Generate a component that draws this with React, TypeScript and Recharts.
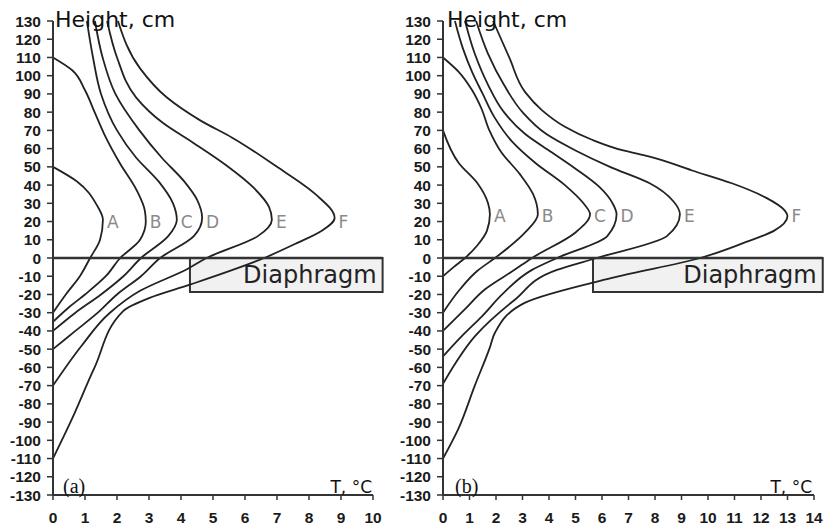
import { LineChart, Line, XAxis, YAxis, ReferenceArea, ReferenceLine, ReferenceDot } from 'recharts';

// Height ticks, shared by both panels
const heightTicks = [
  -130, -120, -110, -100, -90, -80, -70, -60, -50, -40, -30, -20, -10, 0,
  10, 20, 30, 40, 50, 60, 70, 80, 90, 100, 110, 120, 130,
];
const tempTicksA = [0, 1, 2, 3, 4, 5, 6, 7, 8, 9, 10];
const tempTicksB = [0, 1, 2, 3, 4, 5, 6, 7, 8, 9, 10, 11, 12, 13, 14];

const curveNames = ['A', 'B', 'C', 'D', 'E', 'F'];

// panel (a): [T °C, height cm]
const a_A = [[0, 50], [0.75, 42], [1.37, 29], [1.56, 21], [1.47, 10], [1.16, 0], [0.84, -10], [0.4, -20], [0, -30]];
const a_B = [[0, 110], [0.6, 103], [1.0, 92], [1.3, 80], [1.6, 68], [2.09, 52], [2.62, 37], [2.87, 26], [2.9, 20], [2.72, 10], [2.1, 0], [1.65, -10], [1.0, -20], [0.5, -27], [0, -35]];
const a_C = [[1.06, 130], [1.25, 110], [1.5, 90], [2.0, 70], [2.6, 55], [3.3, 42], [3.75, 30], [3.87, 21], [3.6, 12], [2.75, 0], [2.2, -10], [1.5, -20], [0.7, -30], [0, -40]];
const a_D = [[1.31, 130], [1.55, 110], [1.95, 90], [2.7, 70], [3.4, 55], [4.1, 42], [4.5, 32], [4.66, 22], [4.4, 12], [3.35, 0], [2.75, -10], [2.0, -20], [1.4, -30], [0.7, -40], [0, -50]];
const a_E = [[1.69, 130], [2.0, 110], [2.6, 88], [3.44, 74], [4.4, 63], [5.4, 51], [6.3, 38], [6.75, 28], [6.84, 21], [6.4, 12], [4.8, 0], [4.2, -6], [2.72, -18], [1.78, -30], [0.9, -48], [0, -70]];
const a_F = [[2.03, 130], [2.72, 104], [3.56, 88], [4.6, 75.5], [5.6, 66], [7.0, 50], [8.2, 35], [8.8, 22], [8.4, 15], [7.6, 8], [6.6, 0], [4.3, -14.5], [3.0, -22], [2.2, -29], [1.3, -60], [0.6, -88], [0, -110]];

// panel (b)
const b_A = [[0, 70], [0.6, 52], [1.3, 41], [1.7, 30], [1.77, 24], [1.66, 15], [1.3, 7], [0.83, 0], [0.4, -5], [0, -10]];
const b_B = [[0, 110], [0.6, 102], [1.1, 92], [1.45, 82], [1.75, 70], [2.2, 58], [2.9, 46], [3.4, 35], [3.58, 24], [3.1, 14], [1.96, 0], [1.3, -7], [0.65, -17], [0, -30]];
const b_C = [[0.45, 130], [0.75, 115], [1.1, 102], [1.5, 90], [1.95, 77], [2.6, 64], [3.5, 52], [4.6, 40], [5.3, 30], [5.55, 24], [5.0, 14], [3.36, 0], [2.7, -6.5], [1.6, -17], [0.83, -28], [0, -40]];
const b_D = [[0.83, 130], [1.2, 112], [1.7, 95], [2.3, 80], [3.1, 68], [4.1, 58], [5.0, 49], [5.9, 39], [6.4, 30], [6.55, 24], [6.2, 12], [4.3, 0], [3.36, -6.5], [2.3, -19], [1.47, -32], [0.7, -43], [0, -54]];
const b_E = [[1.25, 130], [1.7, 112], [2.3, 95], [3.0, 80], [3.9, 68], [5.0, 59], [6.3, 50], [7.8, 41], [8.7, 31], [8.94, 24], [8.45, 12], [5.8, 0], [4.3, -6.5], [2.7, -23], [1.2, -43], [0.5, -57], [0, -69]];
const b_F = [[1.89, 130], [2.5, 110], [3.1, 91], [3.74, 81], [4.6, 72], [5.6, 65], [6.8, 59], [7.8, 55.6], [9.4, 48], [10.9, 41], [12.2, 33], [12.9, 26], [13.0, 23], [12.5, 15], [11.3, 8], [9.7, 0], [6.5, -10.5], [3.1, -24.5], [1.96, -41], [1.77, -49], [1.2, -70], [0.57, -94], [0, -110]];

// curve label anchors (peak T, height)
const labelTempA = [1.56, 2.9, 3.87, 4.66, 6.84, 8.8];
const labelTempB = [1.77, 3.58, 5.55, 6.55, 8.94, 13.0];
const labelHeightA = 20;
const labelHeightB = 23;

// diaphragm box: [T start, T end, bottom height]
const diaphragmA = [4.28, 10.3, -18.6];
const diaphragmB = [5.66, 14.33, -18.6];

const toRows = (pts: number[][]) => pts.map(([t, h]) => ({ t, h }));

const tickFont = { fontSize: 15.5, fontWeight: 'bold', fill: '#1a1a1a', fontFamily: 'Liberation Sans, Arial, sans-serif' };
const axisStroke = { stroke: '#333', strokeWidth: 2 };

interface PanelProps {
  curves: number[][][];
  xMax: number;
  xTicks: number[];
  labelTemps: number[];
  labelHeight: number;
  box: number[];
  width: number;
  margin: { top: number; right: number; bottom: number; left: number };
}

function Panel({ curves, xMax, xTicks, labelTemps, labelHeight, box, width, margin }: PanelProps) {
  return (
    <LineChart layout="vertical" width={width} height={529} margin={margin}>
      <XAxis
        type="number"
        domain={[0, xMax]}
        ticks={xTicks}
        interval={0}
        tick={tickFont}
        tickSize={5}
        tickMargin={12}
        height={30}
        axisLine={axisStroke}
        tickLine={{ stroke: '#333', strokeWidth: 1.5 }}
      />
      <YAxis
        type="number"
        dataKey="h"
        reversed
        domain={[-130, 130]}
        ticks={heightTicks}
        interval={0}
        tick={tickFont}
        tickSize={6}
        tickMargin={6}
        width={45}
        axisLine={axisStroke}
        tickLine={{ stroke: '#333', strokeWidth: 1.5 }}
      />
      <ReferenceArea
        x1={box[0]}
        x2={box[1]}
        y1={box[2]}
        y2={0}
        ifOverflow="visible"
        fill="#f1f1f1"
        fillOpacity={1}
        stroke="#333"
        strokeWidth={2}
        label={{ value: 'Diaphragm', position: 'insideRight', offset: 6, fontSize: 24, fill: '#222', fontFamily: 'DejaVu Sans, sans-serif' }}
      />
      {curves.map((pts, i) => (
        <Line
          key={curveNames[i]}
          data={toRows(pts)}
          dataKey="t"
          type="monotone"
          stroke="#222"
          strokeWidth={1.8}
          dot={false}
          activeDot={false}
          isAnimationActive={false}
        />
      ))}
      <ReferenceLine
        segment={[{ x: 0, y: 0 }, { x: box[1], y: 0 }]}
        ifOverflow="visible"
        stroke="#333"
        strokeWidth={2.5}
      />
      {labelTemps.map((t, i) => (
        <ReferenceDot
          key={'lbl' + curveNames[i]}
          x={t}
          y={labelHeight}
          r={0}
          fill="none"
          stroke="none"
          label={{ value: curveNames[i], position: 'right', offset: 4, fontSize: 17, fill: '#8a8a8a', fontFamily: 'DejaVu Sans, sans-serif' }}
        />
      ))}
    </LineChart>
  );
}

export default function App() {
  const titleFont = { fontFamily: 'DejaVu Sans, sans-serif', fill: '#111' };
  return (
    <div style={{ position: 'absolute', left: 0, top: 0, width: 826, height: 529, background: '#fff' }}>
      <div style={{ position: 'absolute', left: 0, top: 0 }}>
        <Panel
          curves={[a_A, a_B, a_C, a_D, a_E, a_F]}
          xMax={10}
          xTicks={tempTicksA}
          labelTemps={labelTempA}
          labelHeight={labelHeightA}
          box={diaphragmA}
          width={390}
          margin={{ top: 21, right: 17, bottom: 4, left: 8 }}
        />
      </div>
      <div style={{ position: 'absolute', left: 390, top: 0 }}>
        <Panel
          curves={[b_A, b_B, b_C, b_D, b_E, b_F]}
          xMax={14}
          xTicks={tempTicksB}
          labelTemps={labelTempB}
          labelHeight={labelHeightB}
          box={diaphragmB}
          width={436}
          margin={{ top: 21, right: 12, bottom: 4, left: 8 }}
        />
      </div>
      <svg width={826} height={529} style={{ position: 'absolute', left: 0, top: 0, pointerEvents: 'none' }}>
        <text x={55} y={27} fontSize={22} {...titleFont}>Height, cm</text>
        <text x={447} y={27} fontSize={22} {...titleFont}>Height, cm</text>
        <text x={372} y={493} fontSize={17} textAnchor="end" {...titleFont}>T, °C</text>
        <text x={812} y={493} fontSize={17} textAnchor="end" {...titleFont}>T, °C</text>
        <text x={63} y={493} fontSize={20} fontFamily="Liberation Serif, serif" fill="#111">(a)</text>
        <text x={455} y={493} fontSize={20} fontFamily="Liberation Serif, serif" fill="#111">(b)</text>
      </svg>
    </div>
  );
}
